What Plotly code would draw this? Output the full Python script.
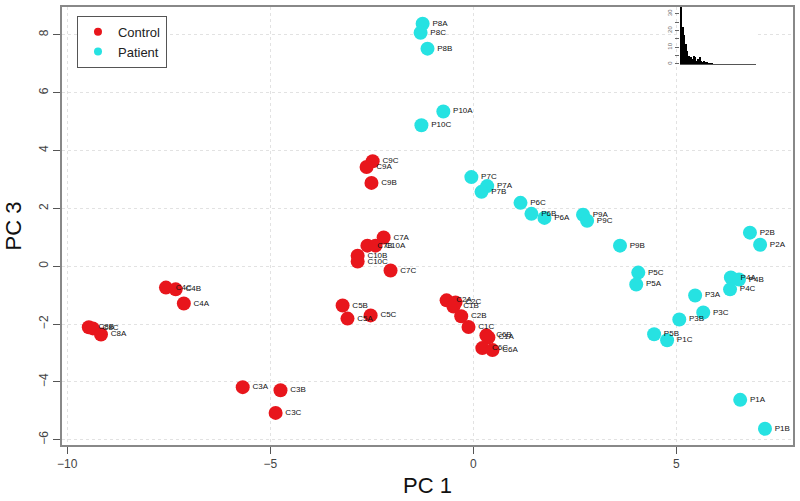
import plotly.graph_objects as go

control_labels = ["C9C","C9A","C9B","C7A","C7B","C10A","C10B","C10C","C7C",
                  "C4C","C4B","C4A","C8B","C8C","C8A","C3A","C3B","C3C",
                  "C5B","C5A","C5C","C2A","C2C","C1B","C2B","C1C","C6B","C1A","C6C","C6A"]
control_pc1 = [-2.48,-2.63,-2.51,-2.21,-2.61,-2.41,-2.85,-2.85,-2.04,
               -7.57,-7.33,-7.13,-9.47,-9.37,-9.17,-5.68,-4.75,-4.87,
               -3.22,-3.10,-2.53,-0.66,-0.44,-0.49,-0.30,-0.12,0.32,0.37,0.22,0.47]
control_pc3 = [3.63,3.43,2.88,0.99,0.71,0.71,0.36,0.16,-0.15,
               -0.74,-0.80,-1.29,-2.11,-2.15,-2.36,-4.18,-4.29,-5.07,
               -1.36,-1.81,-1.70,-1.18,-1.25,-1.39,-1.73,-2.10,-2.39,-2.46,-2.83,-2.90]

patient_labels = ["P8A","P8C","P8B","P10A","P10C","P7C","P7A","P7B","P6C","P6B","P6A",
                  "P9A","P9C","P9B","P5C","P5A","P2B","P2A","P4A","P4B","P4C",
                  "P3A","P3C","P3B","P5B","P1C","P1A","P1B"]
patient_pc1 = [-1.25,-1.30,-1.13,-0.74,-1.28,-0.05,0.34,0.20,1.16,1.43,1.75,
               2.70,2.80,3.61,4.06,4.01,6.81,7.06,6.34,6.54,6.32,
               5.46,5.66,5.07,4.45,4.77,6.57,7.18]
patient_pc3 = [8.38,8.07,7.52,5.35,4.87,3.08,2.77,2.57,2.19,1.81,1.67,
               1.78,1.57,0.71,-0.22,-0.63,1.16,0.74,-0.39,-0.46,-0.80,
               -1.01,-1.60,-1.84,-2.35,-2.56,-4.62,-5.62]

inset_bins = list(range(1, 22))
inset_counts = [36, 22, 17, 12, 8, 5, 4, 3, 5, 4, 2, 3, 4, 2, 1, 2, 1, 1, 0.5, 0.5, 0.3]

RED = "#E8161C"
CYAN = "#26E2E2"
FONT = "Liberation Sans, Arial"

fig = go.Figure()
label_font = dict(family=FONT, size=8, color="#111")
fig.add_trace(go.Scatter(x=control_pc1, y=control_pc3, text=control_labels,
                         mode="markers+text", textposition="middle right",
                         textfont=label_font, showlegend=False, cliponaxis=False,
                         marker=dict(color=RED, size=14, line=dict(width=0))))
fig.add_trace(go.Scatter(x=patient_pc1, y=patient_pc3, text=patient_labels,
                         mode="markers+text", textposition="middle right",
                         textfont=label_font, showlegend=False, cliponaxis=False,
                         marker=dict(color=CYAN, size=14, line=dict(width=0))))
# legend entries
fig.add_trace(go.Scatter(x=[None], y=[None], mode="markers", name="Control",
                         marker=dict(color=RED, size=8)))
fig.add_trace(go.Scatter(x=[None], y=[None], mode="markers", name="Patient",
                         marker=dict(color=CYAN, size=8)))
# inset
fig.add_trace(go.Bar(x=inset_bins, y=inset_counts, xaxis="x2", yaxis="y2",
                     marker=dict(color="black", line=dict(width=0)), width=1.0,
                     showlegend=False))

axis_common = dict(showline=True, linecolor="#888", linewidth=1.5, mirror=True,
                   ticks="outside", ticklen=7, tickcolor="#555",
                   showgrid=True, gridcolor="#e2e2e2", griddash="dot", gridwidth=1,
                   zeroline=False,
                   tickfont=dict(family=FONT, size=12, color="#444"))

fig.update_layout(
    width=800, height=501,
    margin=dict(l=62, r=6, t=5, b=56),
    paper_bgcolor="white", plot_bgcolor="white",
    xaxis=dict(range=[-10.13, 7.87], tickvals=[-10, -5, 0, 5],
               title=dict(text="PC 1", font=dict(family=FONT, size=22, color="#111"), standoff=7),
               **axis_common),
    yaxis=dict(range=[-6.18, 8.96], tickvals=[-6, -4, -2, 0, 2, 4, 6, 8], tickangle=-90,
               title=dict(text="PC 3", font=dict(family=FONT, size=22, color="#111"), standoff=10),
               **axis_common),
    xaxis2=dict(domain=[0.845, 0.95], anchor="y2", range=[0, 50], showticklabels=False,
                showgrid=False, zeroline=False, showline=True, linecolor="#555", linewidth=1,
                ticks=""),
    yaxis2=dict(domain=[0.87, 1.0], anchor="x2", range=[0, 34], showgrid=False, zeroline=False,
                showline=False, tickvals=[0, 10, 20, 30], ticks="outside", ticklen=4,
                tickcolor="#666", tickangle=-90,
                minor=dict(tickvals=[5, 15, 25], ticks="outside", ticklen=4, tickcolor="#666"),
                tickfont=dict(family=FONT, size=6, color="#666")),
    legend=dict(x=0.0205, y=0.98, xanchor="left", yanchor="top",
                bordercolor="#555", borderwidth=1, bgcolor="white",
                font=dict(family=FONT, size=13, color="#222"),
                tracegroupgap=0, itemwidth=30),
    bargap=0,
)

fig.write_html("out.html", config={"displayModeBar": False},
               post_script="document.body.style.margin='0';")
